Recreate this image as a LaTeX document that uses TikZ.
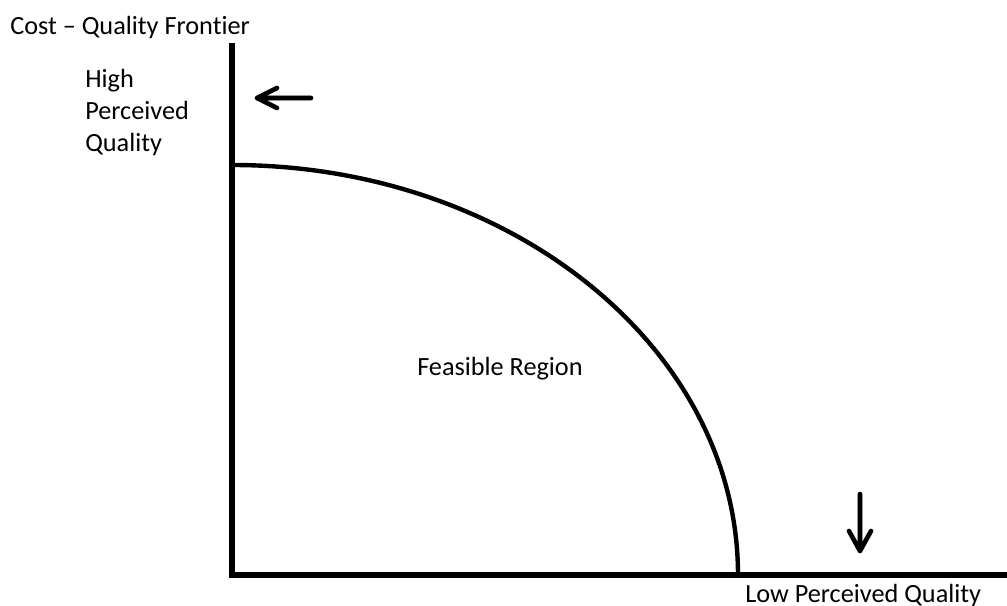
\documentclass[tikz,border=0pt]{standalone}
\usepackage{fontspec}
\setmainfont{Carlito}[Ligatures=NoCommon]
\begin{document}
\begin{tikzpicture}[x=0.75pt,y=-0.75pt,
  axisline/.style={line width=4.3pt},
  frontier/.style={line width=3.3pt},
  pointer/.style={line width=3.4pt,line join=round,line cap=round},
  pshadow/.style={line width=3.8pt,line join=round,line cap=round,draw=black!30,opacity=0.45},
  lbl/.style={inner sep=0pt,anchor=base west,font=\fontsize{19.7}{24}\selectfont}]
\useasboundingbox (0,0) rectangle (1007,606);
% coordinates
\coordinate (O) at (232,575);
\coordinate (Ytop) at (232,43);
\coordinate (Xend) at (1007,575);
\coordinate (Qtop) at (232,165);
\coordinate (Pend) at (738,575);
% left arrow
\coordinate (a1) at (311,98);
\coordinate (a2) at (257,98);
\coordinate (a3) at (277,88);
\coordinate (a4) at (277,108);
% down arrow
\coordinate (b1) at (860,494);
\coordinate (b2) at (860,551);
\coordinate (b3) at (849,531);
\coordinate (b4) at (871,531);
% texts
\node[lbl] (title) at (10,35) {Cost – Quality Frontier};
\node[lbl] (high) at (85,88) {High};
\node[lbl] (perc) at (85,120) {Perceived};
\node[lbl] (qual) at (85,152) {Quality};
\node[lbl] (feas) at (417,375) {Feasible Region};
\node[lbl] (low) at (745,602) {Low Perceived Quality};
% axes
\draw[axisline] (Ytop) -- ([yshift=-2.5pt]O) ;
\draw[axisline] ([xshift=-2.5pt]O) -- (Xend);
% frontier
\draw[frontier] (Qtop) arc[start angle=-90,end angle=0,x radius=506,y radius=410];
% arrows with soft shadow
\draw[pshadow,shift={(2,3)}] (a1) -- (a2) (a3) -- (a2) -- (a4);
\draw[pshadow,shift={(2,3)}] (b1) -- (b2) (b3) -- (b2) -- (b4);
\draw[pointer] (a1) -- (a2) (a3) -- (a2) -- (a4);
\draw[pointer] (b1) -- (b2) (b3) -- (b2) -- (b4);
\end{tikzpicture}
\end{document}
